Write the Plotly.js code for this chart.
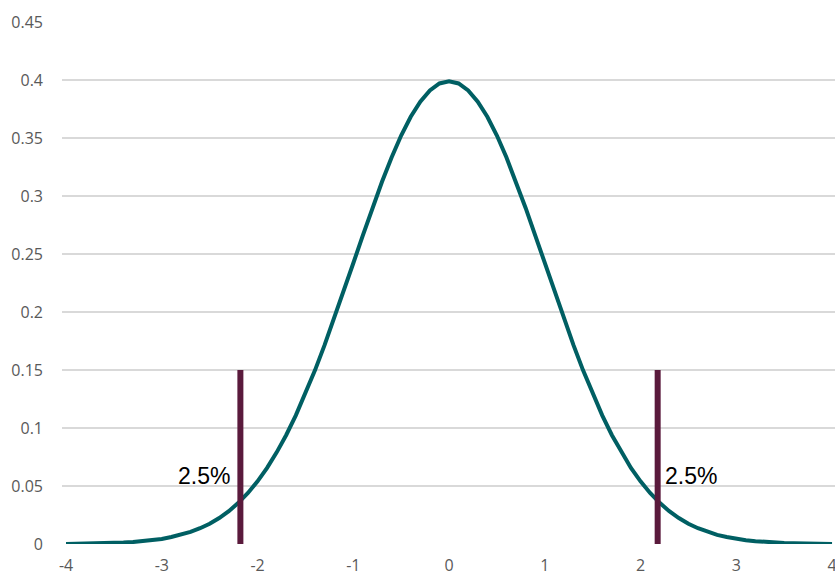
<!DOCTYPE html>
<html>
<head>
<meta charset="utf-8">
<script src="https://cdn.plot.ly/plotly-3.0.1.min.js"></script>
<style>html,body{margin:0;padding:0;background:#fff;overflow:hidden;}#chart{width:835px;height:575px;}</style>
</head>
<body>
<div id="chart"></div>
<script>
var curveX = [-4,-3.9,-3.8,-3.7,-3.6,-3.5,-3.4,-3.3,-3.2,-3.1,-3,-2.9,-2.8,-2.7,-2.6,-2.5,-2.4,-2.3,-2.2,-2.1,-2,-1.9,-1.8,-1.7,-1.6,-1.5,-1.4,-1.3,-1.2,-1.1,-1,-0.9,-0.8,-0.7,-0.6,-0.5,-0.4,-0.3,-0.2,-0.1,0,0.1,0.2,0.3,0.4,0.5,0.6,0.7,0.8,0.9,1,1.1,1.2,1.3,1.4,1.5,1.6,1.7,1.8,1.9,2,2.1,2.2,2.3,2.4,2.5,2.6,2.7,2.8,2.9,3,3.1,3.2,3.3,3.4,3.5,3.6,3.7,3.8,3.9,4];
var curveY = [0.0001,0.0002,0.0003,0.0004,0.0006,0.0009,0.0012,0.0017,0.0024,0.0033,0.0044,0.0060,0.0079,0.0104,0.0136,0.0175,0.0224,0.0283,0.0355,0.0440,0.0540,0.0656,0.0790,0.0940,0.1109,0.1295,0.1497,0.1714,0.1942,0.2179,0.2420,0.2661,0.2897,0.3123,0.3332,0.3521,0.3683,0.3814,0.3910,0.3970,0.3989,0.3970,0.3910,0.3814,0.3683,0.3521,0.3332,0.3123,0.2897,0.2661,0.2420,0.2179,0.1942,0.1714,0.1497,0.1295,0.1109,0.0940,0.0790,0.0656,0.0540,0.0440,0.0355,0.0283,0.0224,0.0175,0.0136,0.0104,0.0079,0.0060,0.0044,0.0033,0.0024,0.0017,0.0012,0.0009,0.0006,0.0004,0.0003,0.0002,0.0001];
var leftBarX = [-2.179,-2.179];
var rightBarX = [2.179,2.179];
var barY = [0,0.15];
var tailLabel = "2.5%";
var xTicks = [-4,-3,-2,-1,0,1,2,3,4];
var yTicks = [0,0.05,0.1,0.15,0.2,0.25,0.3,0.35,0.4,0.45];
var yTickText = ["0","0.05","0.1","0.15","0.2","0.25","0.3","0.35","0.4","0.45"];

var barColor = "#5A1A3C";
var traces = [
  {x: curveX, y: curveY, mode: "lines", line: {color: "#005F63", width: 4}, hoverinfo: "none"},
  {x: leftBarX, y: barY, mode: "lines", line: {color: barColor, width: 6}, hoverinfo: "none"},
  {x: rightBarX, y: barY, mode: "lines", line: {color: barColor, width: 6}, hoverinfo: "none"}
];
var layout = {
  width: 835, height: 575,
  margin: {l: 62, r: 0, t: 22, b: 31},
  paper_bgcolor: "#fff", plot_bgcolor: "#fff",
  showlegend: false,
  font: {family: "Open Sans, sans-serif", size: 16, color: "#595959"},
  xaxis: {range: [-4.042, 4.031], tickvals: xTicks, ticktext: xTicks.map(String), showgrid: false, zeroline: false, showline: false, ticks: "", ticklabelstandoff: 10, ticklabeloverflow: "allow", fixedrange: true},
  yaxis: {range: [0, 0.45], tickvals: yTicks, ticktext: yTickText, showgrid: true, gridcolor: "#D9D9D9", gridwidth: 1.3, zeroline: false, showline: false, ticks: "", ticklabelstandoff: 18, fixedrange: true},
  annotations: [
    {x: leftBarX[0], y: 0.0586, xref: "x", yref: "y", text: tailLabel, showarrow: false, xanchor: "right", yanchor: "middle", xshift: -8, font: {family: "Liberation Sans, Arial, sans-serif", size: 23, color: "#000"}},
    {x: rightBarX[0], y: 0.0586, xref: "x", yref: "y", text: tailLabel, showarrow: false, xanchor: "left", yanchor: "middle", xshift: 5, font: {family: "Liberation Sans, Arial, sans-serif", size: 23, color: "#000"}}
  ]
};
Plotly.newPlot("chart", traces, layout, {displayModeBar: false, staticPlot: true});
</script>
</body>
</html>
